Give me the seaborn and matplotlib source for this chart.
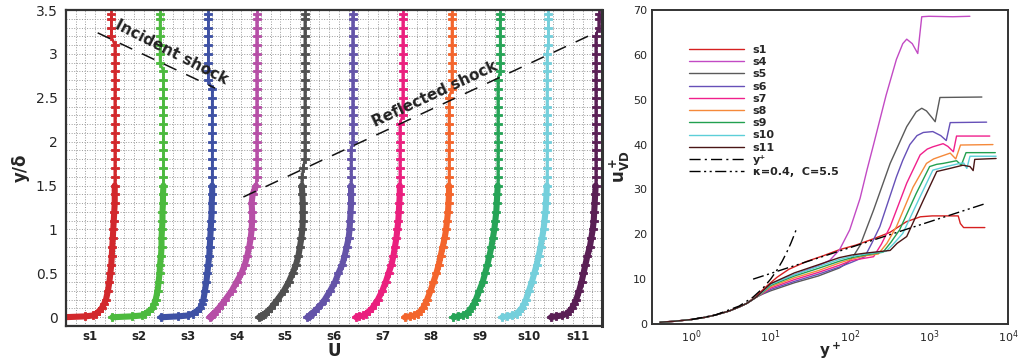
import matplotlib
matplotlib.use("Agg")
import matplotlib.pyplot as plt
import matplotlib.ticker as mticker
from matplotlib.transforms import blended_transform_factory
import pandas as pd
import seaborn as sns

# ---------------- left panel data: velocity profiles ----------------
stations = ["s1", "s2", "s3", "s4", "s5", "s6", "s7", "s8", "s9", "s10", "s11"]
y_delta = [0.0, 0.01, 0.02, 0.04, 0.07, 0.1, 0.15, 0.2, 0.3, 0.4, 0.5, 0.6, 0.7, 0.8,
           0.9, 1.0, 1.1, 1.2, 1.3, 1.4, 1.5, 1.6, 1.7, 1.8, 1.9, 2.0, 2.1, 2.2, 2.3,
           2.4, 2.5, 2.6, 2.7, 2.8, 2.9, 3.0, 3.1, 3.2, 3.3, 3.4, 3.45]
U_s1 = [0.0, 0.45, 0.60, 0.67, 0.73, 0.78, 0.83, 0.87, 0.91, 0.94, 0.96, 0.98, 0.99, 1.00,
        1.01, 1.02, 1.03, 1.04, 1.05, 1.05, 1.05, 1.05, 1.05, 1.05, 1.05, 1.05, 1.05, 1.05,
        1.05, 1.05, 1.05, 1.05, 1.05, 1.05, 1.05, 1.05, 1.05, 0.98, 0.98, 0.98, 0.98]
U_s2 = [0.0, 0.40, 0.60, 0.68, 0.75, 0.82, 0.86, 0.89, 0.93, 0.95, 0.97, 0.98, 1.00, 1.01,
        1.01, 1.02, 1.03, 1.03, 1.04, 1.04, 1.05, 1.05, 1.05, 1.05, 1.05, 1.05, 1.05, 1.05,
        1.05, 1.05, 1.05, 1.05, 1.05, 1.05, 0.98, 0.98, 0.98, 0.98, 0.98, 0.98, 0.98]
U_s3 = [0.0, 0.35, 0.55, 0.65, 0.73, 0.80, 0.84, 0.87, 0.90, 0.93, 0.95, 0.97, 0.99, 1.00,
        1.01, 1.02, 1.03, 1.04, 1.04, 1.05, 1.05, 1.05, 1.05, 1.05, 1.05, 1.05, 1.05, 1.05,
        1.05, 1.05, 1.05, 1.05, 0.97, 0.97, 0.97, 0.97, 0.97, 0.97, 0.97, 0.97, 0.97]
U_s4 = [0.0, 0.02, 0.04, 0.08, 0.13, 0.18, 0.25, 0.32, 0.45, 0.55, 0.65, 0.72, 0.77, 0.81,
        0.84, 0.86, 0.87, 0.87, 0.86, 0.88, 0.95, 0.96, 0.96, 0.96, 0.96, 0.96, 0.96, 0.96,
        0.96, 0.96, 0.96, 0.96, 0.96, 0.96, 0.96, 0.96, 0.96, 0.96, 0.96, 0.96, 0.96]
U_s5 = [0.01, 0.05, 0.09, 0.13, 0.19, 0.25, 0.32, 0.39, 0.52, 0.62, 0.70, 0.77, 0.82, 0.85,
        0.88, 0.90, 0.91, 0.91, 0.91, 0.90, 0.89, 0.89, 0.92, 0.95, 0.95, 0.95, 0.95, 0.95,
        0.95, 0.95, 0.95, 0.95, 0.95, 0.95, 0.95, 0.95, 0.95, 0.95, 0.95, 0.95, 0.95]
U_s6 = [0.0, 0.03, 0.06, 0.10, 0.15, 0.21, 0.29, 0.36, 0.47, 0.57, 0.64, 0.72, 0.77, 0.81,
        0.85, 0.87, 0.88, 0.89, 0.90, 0.90, 0.90, 0.90, 0.90, 0.90, 0.90, 0.93, 0.93, 0.93,
        0.93, 0.93, 0.93, 0.93, 0.93, 0.93, 0.93, 0.93, 0.93, 0.93, 0.93, 0.93, 0.93]
U_s7 = [0.0, 0.07, 0.15, 0.21, 0.27, 0.33, 0.39, 0.45, 0.54, 0.61, 0.67, 0.73, 0.77, 0.80,
        0.83, 0.85, 0.87, 0.88, 0.89, 0.90, 0.90, 0.90, 0.90, 0.90, 0.90, 0.90, 0.90, 0.90,
        0.96, 0.96, 0.96, 0.96, 0.96, 0.96, 0.96, 0.96, 0.96, 0.96, 0.96, 0.96, 0.96]
U_s8 = [0.0, 0.10, 0.20, 0.27, 0.32, 0.37, 0.42, 0.46, 0.53, 0.59, 0.65, 0.70, 0.74, 0.78,
        0.82, 0.85, 0.87, 0.89, 0.90, 0.91, 0.91, 0.91, 0.91, 0.91, 0.91, 0.91, 0.91, 0.91,
        0.91, 0.91, 0.91, 0.97, 0.97, 0.97, 0.97, 0.97, 0.97, 0.97, 0.97, 0.97, 0.97]
U_s9 = [0.0, 0.10, 0.20, 0.27, 0.32, 0.36, 0.42, 0.46, 0.53, 0.60, 0.65, 0.70, 0.74, 0.78,
        0.81, 0.84, 0.86, 0.88, 0.89, 0.90, 0.91, 0.91, 0.91, 0.91, 0.91, 0.91, 0.91, 0.91,
        0.91, 0.91, 0.91, 0.91, 0.91, 0.96, 0.96, 0.96, 0.96, 0.96, 0.96, 0.96, 0.96]
U_s10 = [0.0, 0.10, 0.21, 0.30, 0.35, 0.40, 0.45, 0.49, 0.55, 0.61, 0.66, 0.71, 0.75, 0.79,
         0.82, 0.85, 0.87, 0.89, 0.90, 0.91, 0.92, 0.92, 0.92, 0.92, 0.92, 0.92, 0.92, 0.92,
         0.92, 0.92, 0.92, 0.92, 0.92, 0.92, 0.92, 0.92, 0.95, 0.95, 0.95, 0.95, 0.95]
U_s11 = [0.0, 0.10, 0.23, 0.33, 0.38, 0.43, 0.48, 0.52, 0.58, 0.63, 0.67, 0.71, 0.75, 0.80,
         0.83, 0.86, 0.88, 0.89, 0.90, 0.91, 0.92, 0.92, 0.92, 0.92, 0.92, 0.92, 0.92, 0.92,
         0.92, 0.92, 0.92, 0.92, 0.92, 0.92, 0.92, 0.92, 0.92, 0.92, 0.98, 0.98, 0.98]
profiles = [U_s1, U_s2, U_s3, U_s4, U_s5, U_s6, U_s7, U_s8, U_s9, U_s10, U_s11]
profile_colors = ["#d2282c", "#4cba3e", "#3e51a4", "#b64fa6", "#505050", "#6454a8",
                  "#ea1f7e", "#f3652c", "#27a457", "#74cfdb", "#5a1f55"]

incident_x = [0.65, 3.06]
incident_y = [3.24, 2.61]
reflected_x = [3.64, 10.9]
reflected_y = [1.37, 3.25]

# ---------------- right panel data: u+_VD vs y+ ----------------
yp_wall = [0.4, 0.6, 1.0, 1.5, 2.0, 3.0, 4.0, 5.0, 6.6]
u_wall = [0.4, 0.6, 1.0, 1.5, 2.0, 2.9, 3.8, 4.6, 6.0]

yp_s1 = [0.4, 0.6, 1.0, 1.5, 2.0, 3.0, 4.0, 5.0, 6.6, 9, 12, 17, 28, 46, 75, 120, 200,
         320, 520, 780, 1100, 2350, 2500, 2750, 5100]
u_s1 = [0.4, 0.6, 1.0, 1.5, 2.0, 2.9, 3.8, 4.6, 6.3, 8.5, 10.4, 12.2, 13.9, 15.2, 16.6,
        17.6, 19.0, 20.4, 22.8, 23.9, 24.1, 24.1, 22.4, 21.5, 21.5]
yp_s4 = [8, 10, 20, 40, 56, 74, 100, 135, 166, 200, 288, 389, 468, 525, 617, 724, 813, 1000, 2000, 3300]
u_s4 = [7.3, 8.8, 11.0, 13.0, 14.2, 16.5, 21.0, 28.0, 34.5, 40.0, 51.0, 59.0, 62.5, 63.5, 62.5,
        60.3, 68.5, 68.6, 68.5, 68.6]
yp_s5 = [8, 10, 20, 40, 74, 93, 110, 135, 200, 324, 525, 692, 813, 933, 1096, 1202, 1380, 4677]
u_s5 = [6.7, 7.4, 9.2, 10.7, 12.5, 13.6, 15.0, 17.5, 25.4, 35.8, 44.0, 47.3, 48.1, 47.5, 46.0,
        45.1, 50.5, 50.6]
yp_s6 = [8, 10, 20, 40, 74, 107, 155, 190, 240, 389, 468, 575, 708, 851, 1122, 1413, 1660, 1862, 5370]
u_s6 = [6.8, 7.7, 9.5, 11.1, 12.7, 13.8, 15.0, 18.0, 21.7, 32.8, 36.5, 40.0, 42.0, 42.7, 42.9,
        42.0, 40.9, 44.9, 45.0]
yp_s7 = [8, 10, 20, 40, 74, 107, 200, 251, 324, 525, 776, 955, 1122, 1514, 1738, 2042, 2239, 5888]
u_s7 = [6.9, 8.0, 9.9, 11.5, 13.1, 14.2, 15.0, 17.8, 21.7, 31.4, 37.7, 39.0, 39.5, 40.2, 39.6,
        38.4, 41.9, 41.9]
yp_s8 = [8, 10, 20, 40, 74, 107, 158, 229, 295, 389, 631, 933, 1148, 1380, 1862, 2188, 2512, 6457]
u_s8 = [7.0, 8.3, 10.3, 11.9, 13.6, 14.5, 15.2, 15.6, 18.0, 21.7, 30.5, 35.8, 36.8, 37.3, 38.1,
        36.8, 39.9, 40.0]
yp_s9 = [8, 10, 20, 40, 74, 107, 158, 263, 331, 427, 692, 1023, 1259, 1514, 2239, 2570, 2951, 6918]
u_s9 = [7.1, 8.6, 10.7, 12.4, 14.0, 14.8, 15.4, 16.0, 18.2, 21.0, 29.1, 35.1, 35.6, 35.8, 36.4,
        35.4, 38.2, 38.2]
yp_s10 = [8, 10, 20, 40, 74, 107, 158, 288, 363, 468, 776, 1122, 1660, 2455, 2754, 3020, 3311, 7079]
u_s10 = [7.2, 8.8, 11.0, 12.8, 14.4, 15.1, 15.6, 16.2, 18.0, 20.2, 28.4, 34.3, 35.1, 35.8, 35.9,
         34.7, 37.4, 37.4]
yp_s11 = [8, 10, 20, 40, 74, 107, 158, 324, 398, 525, 851, 1259, 1862, 2692, 3311, 3631, 3802, 7079]
u_s11 = [7.4, 9.0, 11.4, 13.2, 14.8, 15.4, 15.8, 16.4, 18.0, 19.5, 27.6, 34.0, 34.7, 35.4, 35.1,
         34.2, 36.7, 36.9]

curve_names = ["s1", "s4", "s5", "s6", "s7", "s8", "s9", "s10", "s11"]
curve_yp = [yp_s1, yp_wall + yp_s4, yp_wall + yp_s5, yp_wall + yp_s6, yp_wall + yp_s7,
            yp_wall + yp_s8, yp_wall + yp_s9, yp_wall + yp_s10, yp_wall + yp_s11]
curve_u = [u_s1, u_wall + u_s4, u_wall + u_s5, u_wall + u_s6, u_wall + u_s7,
           u_wall + u_s8, u_wall + u_s9, u_wall + u_s10, u_wall + u_s11]
curve_colors = ["#d62020", "#c24ac4", "#5a5a5a", "#6650b8", "#f0208c", "#f5893a",
                "#22a050", "#5ccfd8", "#4a1616"]

viscous_yp = [1.0, 2.0, 4.0, 6.0, 8.0, 10.0, 12.0, 14.0, 16.0, 18.0, 20.0, 21.5]
viscous_u = [1.0, 2.0, 4.0, 6.0, 8.0, 10.0, 12.0, 14.0, 16.0, 18.0, 20.0, 21.5]
loglaw_yp = [6.0, 5100.0]
loglaw_u = [10.0, 26.8]

# ---------------- figure ----------------
sns.set_style("white")
plt.rcParams["font.family"] = ["DejaVu Sans"]
plt.rcParams["mathtext.fontset"] = "dejavusans"

fig = plt.figure(figsize=(10.2, 3.6), dpi=100)
axL = fig.add_axes([0.0647, 0.0944, 0.5255, 0.8778])
axR = fig.add_axes([0.6392, 0.1000, 0.3490, 0.8722])

# ---- left panel ----
for k, (U, col) in enumerate(zip(profiles, profile_colors)):
    X = [k - 0.05 + u for u in U]
    df = pd.DataFrame({"X": X, "y": y_delta})
    sns.lineplot(data=df.iloc[:21], x="X", y="y", sort=False, estimator=None, orient="y",
                 color=col, lw=4.4, ax=axL)
    sns.lineplot(data=df, x="X", y="y", sort=False, estimator=None, orient="y",
                 color=col, lw=1.8, marker="P", markersize=6, markeredgecolor=col,
                 markeredgewidth=0.6, ax=axL)

axL.plot(incident_x, incident_y, color="#111111", lw=1.1, ls=(0, (9, 7)))
axL.plot(reflected_x, reflected_y, color="#111111", lw=1.1, ls=(0, (9, 7)))
axL.text(2.17, 3.02, "Incident shock", rotation=-27, ha="center", va="center",
         fontsize=11, fontweight="bold", color="#222222")
axL.text(7.58, 2.54, "Reflected shock", rotation=25, ha="center", va="center",
         fontsize=11, fontweight="bold", color="#222222")

axL.set_xlim(0, 11)
axL.set_ylim(-0.1, 3.5)
axL.xaxis.set_major_locator(mticker.FixedLocator(list(range(1, 11))))
axL.xaxis.set_minor_locator(mticker.MultipleLocator(0.2))
axL.xaxis.set_major_formatter(mticker.NullFormatter())
axL.yaxis.set_major_locator(mticker.MultipleLocator(0.5))
axL.yaxis.set_minor_locator(mticker.MultipleLocator(0.1))
axL.yaxis.set_major_formatter(mticker.FormatStrFormatter("%g"))
axL.grid(which="both", ls=":", color="#9a9a9a", lw=0.7)
axL.set_axisbelow(True)
axL.tick_params(axis="x", which="major", direction="in", length=7, width=1.5, color="#222222")
axL.tick_params(axis="x", which="minor", direction="in", length=3, width=1.0, color="#222222")
axL.tick_params(axis="y", which="major", direction="in", length=9, width=1.5,
                color="#222222", labelsize=10, pad=6)
axL.tick_params(axis="y", which="minor", direction="in", length=4.5, width=1.0, color="#222222")
trans = blended_transform_factory(axL.transData, axL.transAxes)
for k, name in enumerate(stations):
    axL.text(k + 0.5, -0.012, name, transform=trans, ha="center", va="top",
             fontsize=8.5, fontweight="bold", color="#222222")
axL.set_xlabel("U", fontsize=12, fontweight="bold")
axL.xaxis.set_label_coords(0.5, -0.052)
axL.set_ylabel("y/δ", fontsize=12, fontweight="bold", labelpad=4)
for s in axL.spines.values():
    s.set_color("#333333")
    s.set_linewidth(1.6)
axL.spines["right"].set_linewidth(2.2)

# ---- right panel ----
axR.set_xscale("log")
for name, yp, u, col in zip(curve_names, curve_yp, curve_u, curve_colors):
    sns.lineplot(x=yp, y=u, sort=False, estimator=None, color=col, lw=1.0, ax=axR, label=name)
sns.lineplot(x=viscous_yp, y=viscous_u, sort=False, estimator=None, color="black", lw=1.0,
             ls=(0, (8, 3, 1.5, 3)), ax=axR, label="y⁺")
sns.lineplot(x=loglaw_yp, y=loglaw_u, sort=False, estimator=None, color="black", lw=1.0,
             ls=(0, (8, 2.5, 1.5, 2.5, 1.5, 2.5)), ax=axR, label="κ=0.4,  C=5.5")

axR.set_xlim(10 ** -0.5, 1e4)
axR.set_ylim(0, 70)
axR.yaxis.set_major_locator(mticker.MultipleLocator(10))
axR.yaxis.set_minor_locator(mticker.MultipleLocator(2))
axR.xaxis.set_major_locator(mticker.LogLocator(base=10, numticks=10))
axR.xaxis.set_minor_locator(mticker.LogLocator(base=10, subs=range(2, 10), numticks=20))
axR.tick_params(which="major", direction="in", length=6, width=1.2, labelsize=8, color="#222222")
axR.tick_params(which="minor", direction="in", length=3, width=0.8, color="#222222")
axR.tick_params(axis="both", which="both", top=False, right=False)
axR.set_xlabel(r"$\mathbf{y^+}$", fontsize=11)
axR.xaxis.set_label_coords(0.5, -0.052)
axR.set_ylabel(r"$\mathbf{u^+_{VD}}$", fontsize=12, labelpad=1)
for s in axR.spines.values():
    s.set_color("#333333")
    s.set_linewidth(1.4)

handles, labels = axR.get_legend_handles_labels()
axR.legend(handles, labels, loc="upper left", bbox_to_anchor=(0.092, 0.903),
           borderaxespad=0, frameon=False, handlelength=4.9, handletextpad=0.8,
           labelspacing=0.2, prop={"weight": "bold", "size": 8})

fig.savefig("out.png", dpi=100)
